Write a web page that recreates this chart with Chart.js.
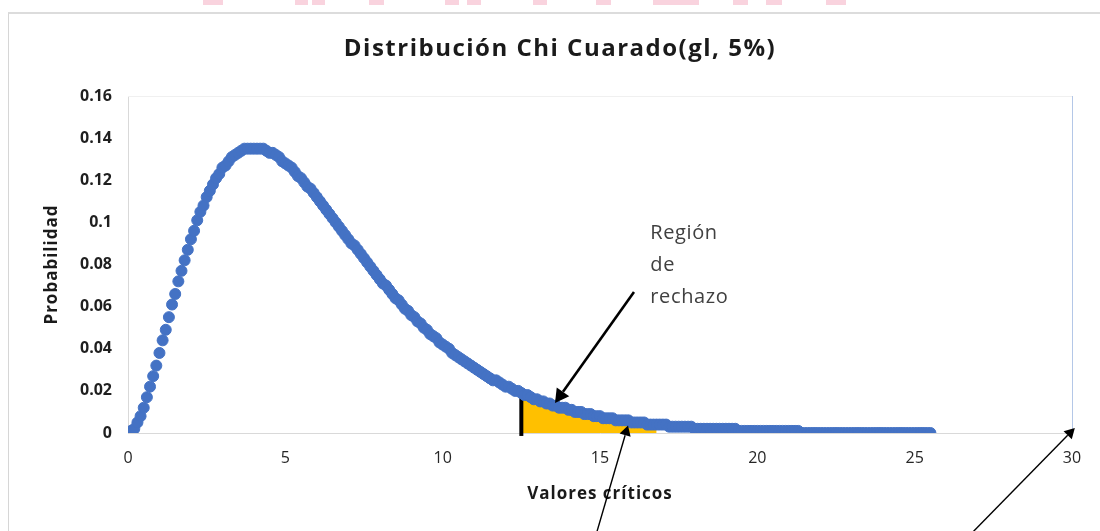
<!DOCTYPE html>
<html>
<head>
<meta charset="utf-8">
<script src="https://cdn.jsdelivr.net/npm/chart.js@4.4.1/dist/chart.umd.min.js"></script>
<style>
  html, body { margin: 0; padding: 0; background: #fff; overflow: hidden; }
  body { width: 1100px; height: 531px; position: relative; }
  .wm { position: absolute; top: 0; height: 5px; background: #f9d3de; }
  #frame {
    position: absolute; left: 8px; top: 12px; width: 1092px; height: 519px;
    border-left: 1px solid #d6d6d6; border-top: 2px solid #dcdcdc;
  }
  #frame canvas { display: block; }
</style>
</head>
<body>
<!-- marca de agua cortada arriba -->
<div class="wm" style="left:203px;width:20px"></div>
<div class="wm" style="left:295px;width:13px"></div>
<div class="wm" style="left:312px;width:13px"></div>
<div class="wm" style="left:369px;width:15px"></div>
<div class="wm" style="left:445px;width:14px"></div>
<div class="wm" style="left:467px;width:14px"></div>
<div class="wm" style="left:533px;width:14px"></div>
<div class="wm" style="left:596px;width:15px"></div>
<div class="wm" style="left:653px;width:46px"></div>
<div class="wm" style="left:733px;width:15px"></div>
<div class="wm" style="left:766px;width:16px"></div>
<div class="wm" style="left:826px;width:20px"></div>

<div id="frame"><canvas id="chiChart" width="1091" height="517"></canvas></div>

<script>
// Valores críticos (eje x), paso 0.1
const xValues = [
  0, 0.1, 0.2, 0.3, 0.4, 0.5, 0.6, 0.7, 0.8, 0.9,
  1, 1.1, 1.2, 1.3, 1.4, 1.5, 1.6, 1.7, 1.8, 1.9,
  2, 2.1, 2.2, 2.3, 2.4, 2.5, 2.6, 2.7, 2.8, 2.9,
  3, 3.1, 3.2, 3.3, 3.4, 3.5, 3.6, 3.7, 3.8, 3.9,
  4, 4.1, 4.2, 4.3, 4.4, 4.5, 4.6, 4.7, 4.8, 4.9,
  5, 5.1, 5.2, 5.3, 5.4, 5.5, 5.6, 5.7, 5.8, 5.9,
  6, 6.1, 6.2, 6.3, 6.4, 6.5, 6.6, 6.7, 6.8, 6.9,
  7, 7.1, 7.2, 7.3, 7.4, 7.5, 7.6, 7.7, 7.8, 7.9,
  8, 8.1, 8.2, 8.3, 8.4, 8.5, 8.6, 8.7, 8.8, 8.9,
  9, 9.1, 9.2, 9.3, 9.4, 9.5, 9.6, 9.7, 9.8, 9.9,
  10, 10.1, 10.2, 10.3, 10.4, 10.5, 10.6, 10.7, 10.8, 10.9,
  11, 11.1, 11.2, 11.3, 11.4, 11.5, 11.6, 11.7, 11.8, 11.9,
  12, 12.1, 12.2, 12.3, 12.4, 12.5, 12.6, 12.7, 12.8, 12.9,
  13, 13.1, 13.2, 13.3, 13.4, 13.5, 13.6, 13.7, 13.8, 13.9,
  14, 14.1, 14.2, 14.3, 14.4, 14.5, 14.6, 14.7, 14.8, 14.9,
  15, 15.1, 15.2, 15.3, 15.4, 15.5, 15.6, 15.7, 15.8, 15.9,
  16, 16.1, 16.2, 16.3, 16.4, 16.5, 16.6, 16.7, 16.8, 16.9,
  17, 17.1, 17.2, 17.3, 17.4, 17.5, 17.6, 17.7, 17.8, 17.9,
  18, 18.1, 18.2, 18.3, 18.4, 18.5, 18.6, 18.7, 18.8, 18.9,
  19, 19.1, 19.2, 19.3, 19.4, 19.5, 19.6, 19.7, 19.8, 19.9,
  20, 20.1, 20.2, 20.3, 20.4, 20.5, 20.6, 20.7, 20.8, 20.9,
  21, 21.1, 21.2, 21.3, 21.4, 21.5, 21.6, 21.7, 21.8, 21.9,
  22, 22.1, 22.2, 22.3, 22.4, 22.5, 22.6, 22.7, 22.8, 22.9,
  23, 23.1, 23.2, 23.3, 23.4, 23.5, 23.6, 23.7, 23.8, 23.9,
  24, 24.1, 24.2, 24.3, 24.4, 24.5, 24.6, 24.7, 24.8, 24.9,
  25, 25.1, 25.2, 25.3, 25.4, 25.5
];

// Probabilidad
const yValues = [
  0, 0.001, 0.002, 0.005, 0.008, 0.012, 0.017, 0.022, 0.027, 0.032,
  0.038, 0.044, 0.049, 0.055, 0.061, 0.066, 0.072, 0.077, 0.082, 0.087,
  0.092, 0.096, 0.101, 0.105, 0.108, 0.112, 0.115, 0.118, 0.121, 0.123,
  0.126, 0.127, 0.129, 0.131, 0.132, 0.133, 0.134, 0.135, 0.135, 0.135,
  0.135, 0.135, 0.135, 0.135, 0.134, 0.133, 0.133, 0.132, 0.131, 0.129,
  0.128, 0.127, 0.126, 0.124, 0.122, 0.121, 0.119, 0.117, 0.116, 0.114,
  0.112, 0.110, 0.108, 0.106, 0.104, 0.102, 0.100, 0.098, 0.096, 0.094,
  0.092, 0.090, 0.089, 0.087, 0.085, 0.083, 0.081, 0.079, 0.077, 0.075,
  0.073, 0.071, 0.070, 0.068, 0.066, 0.064, 0.063, 0.061, 0.059, 0.058,
  0.056, 0.055, 0.053, 0.052, 0.050, 0.049, 0.047, 0.046, 0.045, 0.043,
  0.042, 0.041, 0.040, 0.038, 0.037, 0.036, 0.035, 0.034, 0.033, 0.032,
  0.031, 0.030, 0.029, 0.028, 0.027, 0.026, 0.025, 0.025, 0.024, 0.023,
  0.022, 0.022, 0.021, 0.020, 0.020, 0.019, 0.018, 0.018, 0.017, 0.016,
  0.016, 0.015, 0.015, 0.014, 0.014, 0.013, 0.013, 0.012, 0.012, 0.012,
  0.011, 0.011, 0.010, 0.010, 0.010, 0.009, 0.009, 0.009, 0.008, 0.008,
  0.008, 0.007, 0.007, 0.007, 0.007, 0.006, 0.006, 0.006, 0.006, 0.006,
  0.005, 0.005, 0.005, 0.005, 0.005, 0.004, 0.004, 0.004, 0.004, 0.004,
  0.004, 0.004, 0.003, 0.003, 0.003, 0.003, 0.003, 0.003, 0.003, 0.003,
  0.002, 0.002, 0.002, 0.002, 0.002, 0.002, 0.002, 0.002, 0.002, 0.002,
  0.002, 0.002, 0.002, 0.002, 0.001, 0.001, 0.001, 0.001, 0.001, 0.001,
  0.001, 0.001, 0.001, 0.001, 0.001, 0.001, 0.001, 0.001, 0.001, 0.001,
  0.001, 0.001, 0.001, 0.001, 0, 0, 0, 0, 0, 0,
  0, 0, 0, 0, 0, 0, 0, 0, 0, 0,
  0, 0, 0, 0, 0, 0, 0, 0, 0, 0,
  0, 0, 0, 0, 0, 0, 0, 0, 0, 0,
  0, 0, 0, 0, 0, 0
];

const xTickLabels = ['0', '5', '10', '15', '20', '25', '30'];
const yTickLabels = ['0', '0.02', '0.04', '0.06', '0.08', '0.1', '0.12', '0.14', '0.16'];

// region de rechazo (sombreada) y valor critico
const rejectFrom = 12.5;
const rejectTo = 16.8;
const criticalX = 12.5;
const criticalLine = [-0.0014, 0.021];

// flechas: [x0, y0, x1, y1, grosor]
const arrows = [
  [16.08, 0.067, 13.57, 0.0142, 2.6],
  [14.9, -0.047, 15.89, 0.0036, 1.4],
  [26.85, -0.047, 30.09, 0.0024, 1.4]
];
const noteLines = ['Región', 'de', 'rechazo'];
const notePos = [16.6, 0.095];

const points = xValues.map((x, i) => ({ x: x, y: yValues[i] }));
const rejectArea = points.filter(p => p.x >= rejectFrom - 1e-9 && p.x <= rejectTo + 1e-9);

const FONT = '"Open Sans", "Noto Sans", sans-serif';

function spacedText(ctx, text, x, y, spacing) {
  ctx.letterSpacing = spacing + 'px';
  ctx.fillText(text, x, y);
  ctx.letterSpacing = '0px';
}

const extras = {
  id: 'extras',
  beforeDatasetsDraw(chart) {
    const { ctx, chartArea: a } = chart;
    ctx.save();
    ctx.lineWidth = 1;
    ctx.strokeStyle = '#f0f0f0';
    ctx.beginPath(); ctx.moveTo(a.left, a.top + 0.5); ctx.lineTo(a.right, a.top + 0.5); ctx.stroke();
    ctx.strokeStyle = '#b4c7e7';
    ctx.beginPath(); ctx.moveTo(a.right + 0.5, a.top); ctx.lineTo(a.right + 0.5, a.bottom); ctx.stroke();
    ctx.restore();
  },
  afterDraw(chart) {
    const { ctx, chartArea: a, scales: { x, y } } = chart;
    ctx.save();
    // titulo
    ctx.fillStyle = '#1a1a1a';
    ctx.textAlign = 'center';
    ctx.textBaseline = 'middle';
    ctx.font = 'bold 24px ' + FONT;
    spacedText(ctx, 'Distribución Chi Cuarado(gl, 5%)', 551, 35, 1.5);
    // titulos de ejes
    ctx.font = 'bold 17px ' + FONT;
    spacedText(ctx, 'Valores críticos', (a.left + a.right) / 2, 480, 1);
    ctx.save();
    ctx.translate(43, (a.top + a.bottom) / 2);
    ctx.rotate(-Math.PI / 2);
    spacedText(ctx, 'Probabilidad', 0, 0, 1);
    ctx.restore();
    // texto de la region
    ctx.font = '20px ' + FONT;
    ctx.fillStyle = '#404040';
    ctx.textAlign = 'left';
    noteLines.forEach((t, i) => {
      spacedText(ctx, t, x.getPixelForValue(notePos[0]), y.getPixelForValue(notePos[1]) + i * 32, 0.6);
    });
    // flechas
    ctx.fillStyle = '#000';
    ctx.strokeStyle = '#000';
    arrows.forEach(([x0, y0, x1, y1, w]) => {
      const px0 = x.getPixelForValue(x0), py0 = y.getPixelForValue(y0);
      const px1 = x.getPixelForValue(x1), py1 = y.getPixelForValue(y1);
      const ang = Math.atan2(py1 - py0, px1 - px0);
      const hl = 6 + w * 3, hw = 3.5 + w * 1.6;
      const bx = px1 - hl * Math.cos(ang), by = py1 - hl * Math.sin(ang);
      ctx.lineWidth = w;
      ctx.beginPath(); ctx.moveTo(px0, py0); ctx.lineTo(bx, by); ctx.stroke();
      ctx.beginPath();
      ctx.moveTo(px1, py1);
      ctx.lineTo(bx + hw * Math.sin(ang), by - hw * Math.cos(ang));
      ctx.lineTo(bx - hw * Math.sin(ang), by + hw * Math.cos(ang));
      ctx.closePath();
      ctx.fill();
    });
    ctx.restore();
  }
};

new Chart(document.getElementById('chiChart').getContext('2d'), {
  type: 'scatter',
  data: {
    datasets: [
      {
        label: 'Probabilidad',
        data: points,
        pointRadius: 5.5,
        pointBackgroundColor: '#4472C4',
        pointBorderColor: '#4472C4',
        pointBorderWidth: 1,
        showLine: false
      },
      {
        label: 'Valor crítico',
        data: [{ x: criticalX, y: criticalLine[0] }, { x: criticalX, y: criticalLine[1] }],
        showLine: true,
        borderColor: '#000',
        borderWidth: 4,
        pointRadius: 0,
        clip: false
      },
      {
        label: 'Región de rechazo',
        data: rejectArea,
        showLine: true,
        fill: 'origin',
        backgroundColor: '#FFC000',
        borderColor: '#FFC000',
        borderWidth: 0,
        pointRadius: 0,
        cubicInterpolationMode: 'monotone'
      }
    ]
  },
  options: {
    responsive: false,
    animation: false,
    devicePixelRatio: 1,
    layout: { padding: { top: 82, right: 28, left: 0, bottom: 0 } },
    plugins: { legend: { display: false }, tooltip: { enabled: false }, title: { display: false } },
    scales: {
      x: {
        type: 'linear',
        min: 0, max: 30,
        afterFit(s) { s.height = 98; },
        ticks: {
          stepSize: 5,
          padding: 16,
          color: '#262626',
          font: { family: FONT, size: 16 },
          callback: (v, i) => xTickLabels[i]
        },
        grid: { display: false, drawTicks: false },
        border: { display: true, color: '#d9d9d9', width: 1 }
      },
      y: {
        min: 0, max: 0.16,
        afterFit(s) { s.width = 119; },
        ticks: {
          stepSize: 0.02,
          padding: 16,
          color: '#1f1f1f',
          font: { family: FONT, size: 16, weight: 'bold' },
          callback: (v, i) => yTickLabels[i]
        },
        grid: { display: false, drawTicks: false },
        border: { display: true, color: '#d9d9d9', width: 1 }
      }
    }
  },
  plugins: [extras]
});
</script>
</body>
</html>
